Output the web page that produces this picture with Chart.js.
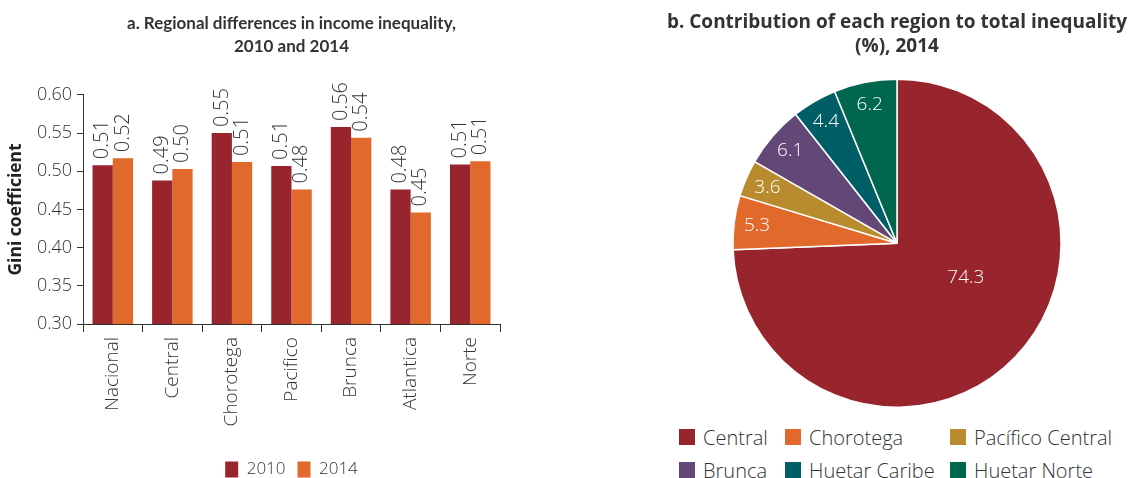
<!DOCTYPE html>
<html>
<head>
<meta charset="utf-8">
<script src="https://cdn.jsdelivr.net/npm/chart.js@4.4.1/dist/chart.umd.min.js"></script>
<style>
  html, body { margin: 0; background: #fff; overflow: hidden; }
  #left { position: absolute; left: 0; top: 0; width: 583px; height: 492px; }
  #right { position: absolute; left: 665px; top: 0; width: 464px; height: 418px; }
  #pieLegend {
    position: absolute; left: 679px; top: 425px;
    display: grid; grid-template-columns: 106px 165px auto; row-gap: 9px;
    font-family: "Open Sans", Lato, sans-serif;
    font-size: 20px; font-weight: 300; color: #333;
  }
  .item { display: flex; align-items: center; height: 24px; white-space: nowrap; }
  .box { width: 16px; height: 16px; margin-right: 8px; flex: none; }
</style>
</head>
<body>
<div id="left"><canvas id="barChart"></canvas></div>
<div id="right"><canvas id="pieChart"></canvas></div>
<div id="pieLegend"></div>
<script>
const regions = ["Nacional", "Central", "Chorotega", "Pacifico", "Brunca", "Atlantica", "Norte"];
const gini2010 = [0.508, 0.488, 0.550, 0.507, 0.558, 0.476, 0.509];
const gini2014 = [0.517, 0.503, 0.512, 0.476, 0.544, 0.446, 0.513];
const giniTicks = [0.30, 0.35, 0.40, 0.45, 0.50, 0.55, 0.60];

const pieRegions = ["Central", "Chorotega", "Pacífico Central", "Brunca", "Huetar Caribe", "Huetar Norte"];
const pieShares = [74.3, 5.3, 3.6, 6.1, 4.4, 6.2];
const pieColors = ["#98252e", "#e0692b", "#b98b2f", "#634877", "#005f66", "#00674f"];

const FONT = "'Open Sans', Lato, sans-serif";
const TEXT = "#333333";

// value labels rotated on top of each bar
const barLabels = {
    id: "barLabels",
    afterDatasetsDraw(chart) {
        const ctx = chart.ctx;
        ctx.save();
        ctx.font = "300 20px " + FONT;
        ctx.fillStyle = TEXT;
        ctx.textAlign = "left";
        ctx.textBaseline = "middle";
        chart.data.datasets.forEach((ds, i) => {
            chart.getDatasetMeta(i).data.forEach((bar, j) => {
                ctx.save();
                ctx.translate(bar.x, bar.y - 6);
                ctx.rotate(-Math.PI / 2);
                ctx.fillText(ds.data[j].toFixed(2), 0, 0);
                ctx.restore();
            });
        });
        ctx.restore();
    }
};

// numbers inside pie slices
const sliceLabels = {
    id: "sliceLabels",
    afterDatasetsDraw(chart) {
        const ctx = chart.ctx;
        ctx.save();
        ctx.font = "300 19px " + FONT;
        ctx.fillStyle = "#ffffff";
        ctx.textAlign = "center";
        ctx.textBaseline = "middle";
        const ds = chart.data.datasets[0];
        chart.getDatasetMeta(0).data.forEach((arc, i) => {
            let mid = (arc.startAngle + arc.endAngle) / 2;
            let f = 0.86;
            if (ds.data[i] > 50) { mid -= 0.3; f = 0.47; }
            const x = arc.x + Math.cos(mid) * arc.outerRadius * f;
            const y = arc.y + Math.sin(mid) * arc.outerRadius * f;
            ctx.fillText(ds.data[i].toFixed(1), x, y);
        });
        ctx.restore();
    }
};

new Chart(document.getElementById("barChart"), {
    type: "bar",
    data: {
        labels: regions,
        datasets: [
            { label: "2010", data: gini2010, backgroundColor: "#98252e" },
            { label: "2014", data: gini2014, backgroundColor: "#e0692b" }
        ]
    },
    options: {
        responsive: true,
        maintainAspectRatio: false,
        animation: false,
        layout: { padding: { left: 0, right: 0, top: 0, bottom: 4 } },
        categoryPercentage: 0.68,
        barPercentage: 1,
        plugins: {
            title: {
                display: true,
                text: ["a. Regional differences in income inequality,", "2010 and 2014"],
                font: { family: "Lato, sans-serif", size: 17, weight: "bold", lineHeight: 1.35 },
                color: TEXT,
                padding: { top: 12, bottom: 37 }
            },
            legend: {
                position: "bottom",
                labels: {
                    boxWidth: 13,
                    boxHeight: 16,
                    padding: 12,
                    color: TEXT,
                    font: { family: FONT, size: 17, weight: "300" }
                }
            },
            tooltip: { enabled: false }
        },
        scales: {
            x: {
                afterFit(scale) { scale.height = 125; },
                grid: { display: true, drawOnChartArea: false, drawTicks: true, tickLength: 8, offset: true, color: TEXT },
                border: { display: true, color: TEXT },
                ticks: {
                    minRotation: 90, maxRotation: 90, padding: 5,
                    color: TEXT,
                    font: { family: FONT, size: 19, weight: "300" }
                }
            },
            y: {
                min: giniTicks[0],
                max: giniTicks[giniTicks.length - 1],
                afterBuildTicks(scale) { scale.ticks = giniTicks.map(v => ({ value: v })); },
                afterFit(scale) { scale.width = 83; },
                grid: { display: true, drawOnChartArea: false, drawTicks: true, tickLength: 6, color: TEXT },
                border: { display: true, color: TEXT },
                ticks: {
                    padding: 5,
                    color: TEXT,
                    font: { family: FONT, size: 18, weight: "300" },
                    callback: v => v.toFixed(2)
                },
                title: {
                    display: true,
                    text: "Gini coefficient",
                    color: "#222",
                    font: { family: FONT, size: 17.5, weight: "bold" },
                    padding: { top: 6, bottom: 0 }
                }
            },
            // empty axis on the right so the plot is centred under the title and legend
            yRight: {
                type: "linear",
                position: "right",
                afterFit(scale) { scale.width = 83; },
                grid: { display: false },
                border: { display: false },
                ticks: { display: false }
            }
        }
    },
    plugins: [barLabels]
});

new Chart(document.getElementById("pieChart"), {
    type: "pie",
    data: {
        labels: pieRegions,
        datasets: [{
            data: pieShares,
            backgroundColor: pieColors,
            borderColor: "#ffffff",
            borderWidth: 1.5
        }]
    },
    options: {
        responsive: true,
        maintainAspectRatio: false,
        animation: false,
        layout: { padding: { top: 0, bottom: 10 } },
        plugins: {
            title: {
                display: true,
                text: ["b. Contribution of each region to total inequality", "(%), 2014"],
                font: { family: FONT, size: 19, weight: "bold", lineHeight: 1.3 },
                color: TEXT,
                padding: { top: 10, bottom: 19 }
            },
            legend: { display: false },
            tooltip: { enabled: false }
        }
    },
    plugins: [sliceLabels]
});

// html legend laid out in three columns like the original
const legendEl = document.getElementById("pieLegend");
pieRegions.forEach((name, i) => {
    const item = document.createElement("div");
    item.className = "item";
    item.innerHTML = `<span class="box" style="background:${pieColors[i]}"></span><span>${name}</span>`;
    legendEl.appendChild(item);
});
</script>
</body>
</html>
